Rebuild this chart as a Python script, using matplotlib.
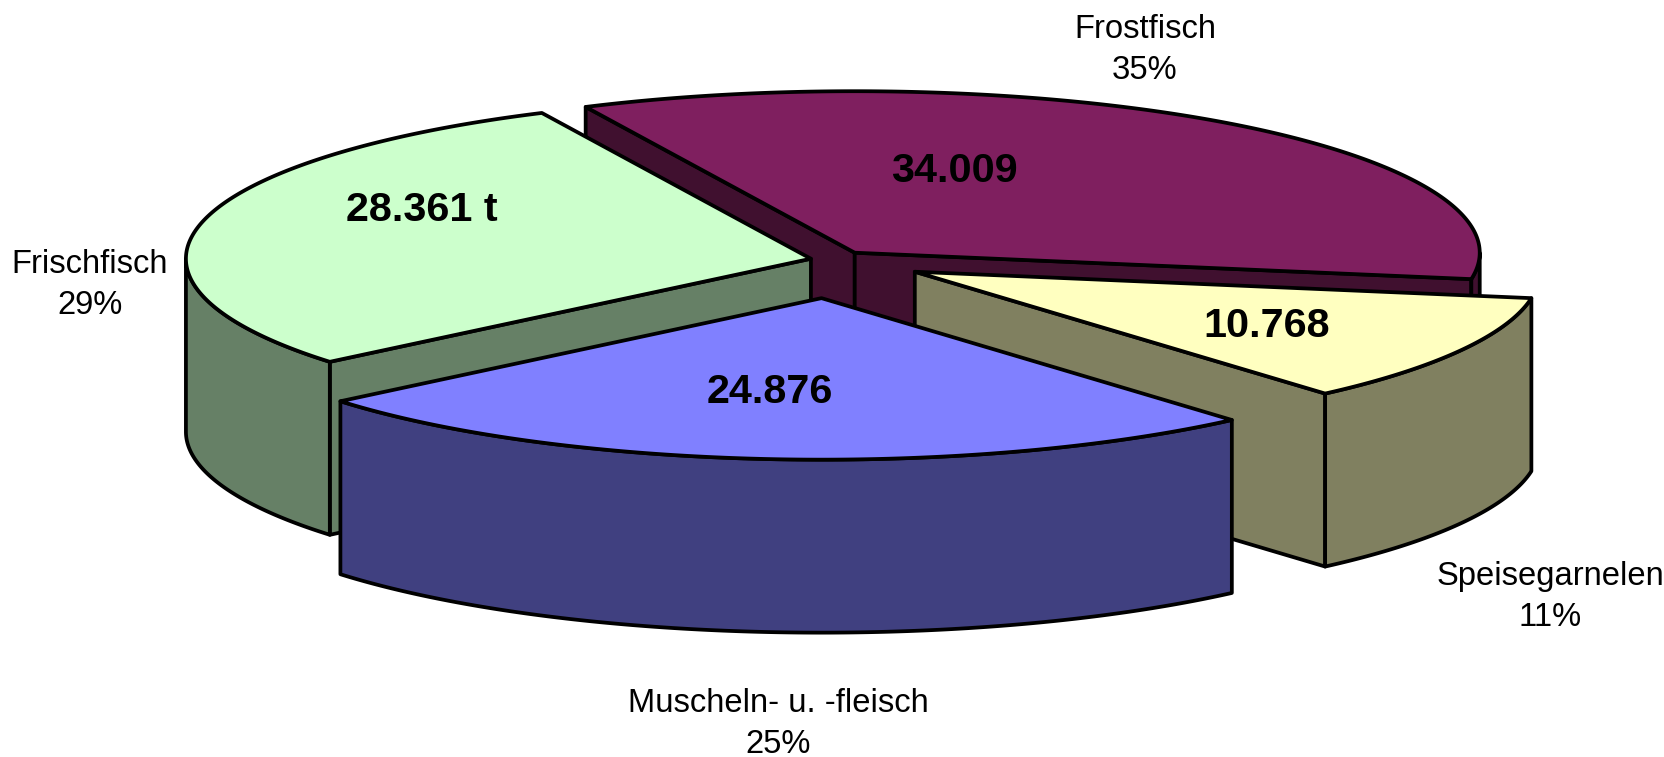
import numpy as np
import matplotlib
matplotlib.use('Agg')
import matplotlib.pyplot as plt
from matplotlib.patches import Polygon

plt.rcParams['font.family'] = ['Liberation Sans', 'DejaVu Sans']

names = ['Frostfisch', 'Speisegarnelen', 'Muscheln- u. -fleisch', 'Frischfisch']
values = [34009, 10768, 24876, 28361]
value_labels = ['34.009', '10.768', '24.876', '28.361 t']

top_colors = ['#7F1F5F', '#FFFFC0', '#8080FF', '#CCFFCC']
side_colors = ['#40102F', '#808060', '#404080', '#668066']
explode = [0.0565, 0.149, 0.237, 0.037]
draw_order = [0, 3, 1, 2]

name_pos = [(1145, 50), (1550, 597), (778, 724), (90, 285)]
value_pos = [(954, 171), (1267, 326), (770, 392), (422, 210)]

start = 115.5
cx, cy = 833.5, 260
a, b = 625, 161.5
depth = 173
lw = 2.7

fig = plt.figure(figsize=(16.65, 7.57), dpi=100)
ax = fig.add_axes([0, 0, 1, 1])
ax.set_xlim(0, 1665)
ax.set_ylim(757, 0)
ax.axis('off')


def rim(x0, y0, t0, t1):
    t = np.radians(np.linspace(t0, t1, 200))
    return np.column_stack([x0 + a * np.cos(t), y0 - b * np.sin(t)])


def face(points, color, z):
    ax.add_patch(Polygon(points, closed=True, facecolor=color, edgecolor='black',
                         linewidth=lw, joinstyle='round', zorder=z))


fracs = np.array(values) / sum(values)
edges = start - np.concatenate([[0], np.cumsum(fracs) * 360])

for n, i in enumerate(draw_order):
    t0, t1 = edges[i], edges[i + 1]
    mid = np.radians((t0 + t1) / 2)
    x0 = cx + explode[i] * a * np.cos(mid)
    y0 = cy - explode[i] * b * np.sin(mid)
    z = 2 + n
    apex = np.array([[x0, y0]])
    down = np.array([0, depth])

    # cut faces, only the ones turned towards the viewer
    for t, visible in [(t0, np.cos(np.radians(t0)) < 0), (t1, np.cos(np.radians(t1)) > 0)]:
        if visible:
            end = rim(x0, y0, t, t)[:1]
            face(np.vstack([apex, end, end + down, apex + down]), side_colors[i], z)

    # outer wall, lower half of the ellipse only
    for shift in (-720, -360, 0):
        w0 = max(t1, 180 + shift)
        w1 = min(t0, 360 + shift)
        if w0 < w1:
            arc = rim(x0, y0, w0, w1)
            face(np.vstack([arc, arc[::-1] + down]), side_colors[i], z)

    face(np.vstack([apex, rim(x0, y0, t0, t1)]), top_colors[i], z + 0.5)

for i in range(len(values)):
    ax.text(*name_pos[i], f'{names[i]}\n{fracs[i] * 100:.0f}%', ha='center', va='center',
            fontsize=23.6, linespacing=1.43, color='black', zorder=10)
    ax.text(*value_pos[i], value_labels[i], ha='center', va='center', fontsize=29.8,
            fontweight='bold', color='black', zorder=10)

fig.savefig('out.png', dpi=100)
